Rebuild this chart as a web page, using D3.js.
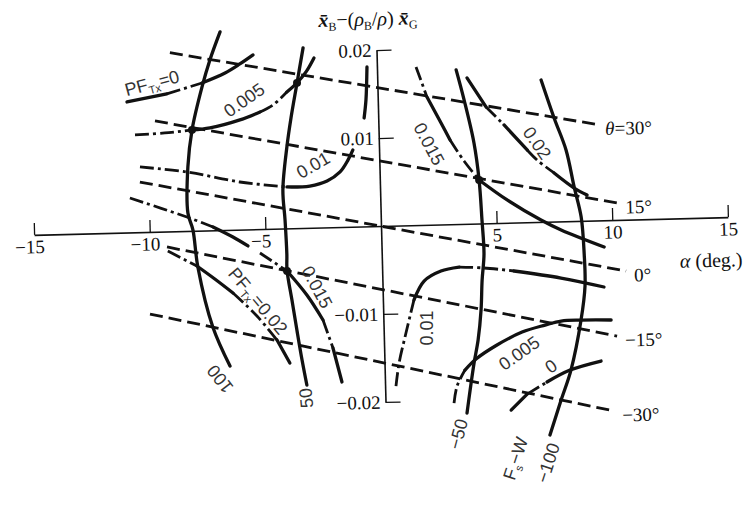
<!DOCTYPE html>
<html>
<head>
<meta charset="utf-8">
<script src="https://cdn.jsdelivr.net/npm/d3@7"></script>
<style>
  html, body { margin: 0; padding: 0; background: #fff; }
  svg { display: block; }
</style>
</head>
<body>
<svg id="chart" width="748" height="507"></svg>
<script>
// ---- axes -------------------------------------------------------------
const alphaTicks = [-15, -10, -5, 5, 10, 15];
const alphaTickLabels = ["\u221215", "\u221210", "\u22125", "5", "10", "15"];
const yTicks = [0.02, 0.01, -0.01, -0.02];
const yTickLabels = ["0.02", "0.01", "\u22120.01", "\u22120.02"];

// ---- pitch-angle lines theta = const (alpha, value) -------------------
const thetaLabels = ["30\u00b0", "15\u00b0", "0\u00b0", "\u221215\u00b0", "\u221230\u00b0"];
const thetaStart = [[-8.93, 0.0203], [-9.65, 0.01259], [-10.37, 0.0057], [-9.27, -0.00176], [-10.08, -0.00933]];
const thetaEnd   = [[9.45, 0.0109], [10.23, 0.00192], [10.54, -0.00583], [10.08, -0.01319], [9.87, -0.0217]];

// ---- F_s - W contours (solid) ----------------------------------------
const fw100 = [[-6.74, 0.02252], [-7.21, 0.01936], [-7.58, 0.01632], [-8.06, 0.01146], [-8.28, 0.00727],
               [-8.33, 0.00204], [-8.13, 0.00009], [-7.96, -0.00413], [-7.38, -0.01099], [-6.68, -0.01547]];
const fw50 = [[-3.17, 0.02046], [-3.47, 0.0165], [-3.77, 0.01254], [-3.98, 0.00925], [-4.2, 0.00438],
              [-4.14, 0.00096], [-4.1, -0.00291], [-4.11, -0.00473], [-3.93, -0.00815], [-3.75, -0.01157],
              [-3.56, -0.015], [-3.38, -0.01785]];
const fwM50 = [[3.42, 0.01751], [3.73, 0.01408], [4.11, 0.00916], [4.29, 0.00494], [4.37, 0.00039],
               [4.42, -0.00348], [4.31, -0.00643], [4.23, -0.00984], [4.07, -0.01324], [3.87, -0.01584],
               [3.67, -0.0189], [3.51, -0.0215]];
const fwM100 = [[7.08, 0.01612], [7.6, 0.01177], [8.08, 0.0081], [8.39, 0.00387], [8.66, 0.00044],
                [8.75, -0.00378], [8.75, -0.00741], [8.54, -0.01127], [8.05, -0.01692], [7.59, -0.0203],
                [7.07, -0.02424]];

// ---- PF_tx contours; runs: [from, to, kind] with kind "s" solid, "d" dash-dot
const pf0 = [[-10.84, 0.01483], [-9.11, 0.01563], [-7.58, 0.01677], [-6.57, 0.01784], [-5.92, 0.01882], [-5.34, 0.01981]];
const pf0Runs = [[0, 1, "s"], [1, 2, "d"], [2, 5, "s"]];
const pf005 = [[-10.53, 0.01106], [-9.24, 0.0112], [-8.06, 0.01146], [-7.28, 0.01164], [-5.98, 0.01246], [-5.1, 0.01331],
               [-4.53, 0.01407], [-3.92, 0.0155], [-3.47, 0.0165], [-3.07, 0.01772], [-2.71, 0.01929]];
const pf005Runs = [[0, 2, "d"], [2, 5, "s"], [5, 7, "d"], [7, 10, "s"]];
const pf01 = [[-10.35, 0.00741], [-8.33, 0.0067], [-6.05, 0.00541], [-4.02, 0.00471], [-3.03, 0.00475], [-2.28, 0.00527],
              [-1.71, 0.00626], [-1.35, 0.0076], [-1.13, 0.00872], [-0.61, 0.01232], [-0.51, 0.01436], [-0.43, 0.01811]];
const pf01Runs = [[0, 3, "d"], [3, 8, "s"], [9, 11, "s"]];
const pf015 = [[-10.82, 0.00391], [-8.38, 0.00159], [-7.26, 0.00038], [-6.41, -0.00082], [-5.77, -0.00188], [-5.26, -0.00271],
               [-4.11, -0.00484], [-3.28, -0.00763], [-2.61, -0.01051], [-2.21, -0.01372], [-1.86, -0.01761]];
const pf015Runs = [[0, 2, "d"], [2, 4, "s"], [5, 6, "d"], [6, 8, "s"], [8, 9, "d"], [9, 10, "s"]];
const pf02 = [[-9.24, -0.00222], [-8.0, -0.00401], [-7.24, -0.00554], [-6.47, -0.00718], [-5.46, -0.00986], [-4.62, -0.01265], [-4.09, -0.0153]];
const pf02Runs = [[0, 1, "d"], [1, 3, "s"], [3, 5, "d"], [5, 6, "s"]];
const pf015R = [[1.69, 0.01797], [2.13, 0.01452], [2.71, 0.01153], [3.08, 0.00957], [3.66, 0.00714], [4.29, 0.00494],
                [5.48, 0.00259], [6.92, 0.00021], [7.78, -0.00098], [9.62, -0.00304]];
const pf015RRuns = [[0, 1, "d"], [1, 3, "s"], [3, 5, "d"], [5, 9, "s"]];
const pf02R = [[3.88, 0.01657], [4.67, 0.01322], [5.43, 0.01112], [6.4, 0.00821], [6.82, 0.00704], [7.54, 0.00552], [8.39, 0.00375], [8.94, 0.00292]];
const pf02RRuns = [[0, 1, "s"], [1, 2, "d"], [2, 3, "s"], [3, 5, "d"], [5, 7, "s"]];
const pf01R = [[0.47, -0.01823], [0.63, -0.01562], [0.96, -0.01223], [1.34, -0.00851], [1.8, -0.00638], [2.54, -0.00529],
               [3.33, -0.00489], [4.41, -0.00507], [5.7, -0.0055], [7.72, -0.00644], [9.57, -0.00758]];
const pf01RRuns = [[0, 3, "d"], [3, 6, "s"], [6, 8, "d"], [8, 10, "s"]];
const pf005R = [[2.96, -0.02033], [3.11, -0.0184], [3.47, -0.01661], [3.96, -0.01539], [4.88, -0.01386], [5.98, -0.01246],
                [6.98, -0.01173], [7.68, -0.01132], [8.54, -0.01127], [9.84, -0.01135]];
const pf005RRuns = [[0, 2, "d"], [2, 9, "s"]];
const pf0R = [[5.42, -0.02129], [6.13, -0.01952], [7.0, -0.01821], [8.01, -0.01692], [9.36, -0.01598]];
const pf0RRuns = [[0, 1, "s"], [1, 2, "d"], [2, 4, "s"]];

// trim points where three families meet
const trimPoints = [[-8.06, 0.01146], [-3.47, 0.0165], [-4.11, -0.00484], [4.29, 0.00494]];

// curve labels: text, anchor (alpha, value), angle in degrees
const curveLabelText = ["0.005", "0.01", "0.015", "0.015", "0.02", "0.01", "0.005", "0", "100", "50", "\u221250", "\u2212100"];
const curveLabelAt = [[-5.78, 0.01472], [-2.87, 0.00713], [-2.83, -0.00675], [2.17, 0.00918], [6.84, 0.00898],
                      [1.88, -0.01173], [5.83, -0.01484], [7.19, -0.01641], [-7.13, -0.01692], [-3.43, -0.01933],
                      [3.1, -0.02386], [6.95, -0.0274]];
const curveLabelAngle = [-35, -30, 62, 62, 55, -90, -35, -35, -128, -95, -75, -72];
const pfNameLabels = [{ value: "0", at: [-9.74, 0.01692], angle: -15 }, { value: "0.02", at: [-5.4, -0.00816], angle: 50 }];

// ---- drawing ------------------------------------------------------------
const svg = d3.select("#chart");
const x = d3.scaleLinear().domain([-15, 15]).range([34, 728]);
const y = d3.scaleLinear().domain([-0.02, 0.02]).range([402, 50]);
const tilt = -1.47;
const g = svg.append("g").attr("transform", `rotate(${tilt},${x(0)},${y(0)})`);
const ink = "#111";
const serif = "'Liberation Serif', 'Times New Roman', serif";
const sans = "'Liberation Sans', Arial, sans-serif";

const smooth = d3.line().x(d => x(d[0])).y(d => y(d[1])).curve(d3.curveCatmullRom.alpha(0.5));
const straight = d3.line().x(d => x(d[0])).y(d => y(d[1]));

// x axis: ticks point up, labels below
const xAxis = d3.axisBottom(x).tickValues(alphaTicks).tickFormat((d, i) => alphaTickLabels[i])
  .tickSizeInner(-12).tickSizeOuter(0).tickPadding(5);
const gx = g.append("g").attr("transform", `translate(0,${y(0)})`).call(xAxis).attr("font-family", serif);
gx.select(".domain").attr("stroke", ink).attr("stroke-width", 1.6);
gx.selectAll(".tick line").attr("stroke", ink).attr("stroke-width", 1.3);
gx.selectAll(".tick text").attr("font-family", serif).attr("font-size", 19).attr("fill", ink)
  .attr("dx", d => d < 0 ? -5 : 0);

// y axis: ticks to the right, labels to the left
const yAxis = d3.axisLeft(y).tickValues(yTicks).tickFormat((d, i) => yTickLabels[i])
  .tickSizeInner(-15).tickSizeOuter(0).tickPadding(5);
const gy = g.append("g").attr("transform", `translate(${x(0)},0)`).call(yAxis).attr("font-family", serif);
gy.select(".domain").attr("stroke", ink).attr("stroke-width", 1.6);
gy.selectAll(".tick line").attr("stroke", ink).attr("stroke-width", 1.3);
gy.selectAll(".tick text").attr("font-family", serif).attr("font-size", 19).attr("fill", ink);

// axis titles
const yt = g.append("text").attr("x", x(-0.34)).attr("y", y(0.0228)).attr("text-anchor", "middle")
  .attr("font-family", serif).attr("font-size", 20).attr("fill", ink);
yt.append("tspan").attr("font-style", "italic").attr("font-weight", "bold").text("x\u0304");
yt.append("tspan").attr("font-size", 12).attr("dy", 4).text("B");
yt.append("tspan").attr("dy", -4).text("\u2212(");
yt.append("tspan").attr("font-style", "italic").text("\u03c1");
yt.append("tspan").attr("font-size", 12).attr("dy", 4).text("B");
yt.append("tspan").attr("dy", -4).text("/");
yt.append("tspan").attr("font-style", "italic").text("\u03c1");
yt.append("tspan").text(") ");
yt.append("tspan").attr("font-style", "italic").attr("font-weight", "bold").text("x\u0304");
yt.append("tspan").attr("font-size", 12).attr("dy", 4).text("G");

const xt = g.append("text").attr("x", x(14.23)).attr("y", y(-0.00483)).attr("dy", "0.35em")
  .attr("text-anchor", "middle").attr("font-family", serif).attr("font-size", 20).attr("fill", ink);
xt.append("tspan").attr("font-style", "italic").text("\u03b1");
xt.append("tspan").text(" (deg.)");

// theta lines
const thetaGroup = g.append("g");
thetaStart.forEach((s, i) => {
  const e = thetaEnd[i];
  thetaGroup.append("path").attr("d", straight([s, e])).attr("fill", "none").attr("stroke", ink)
    .attr("stroke-width", 2.8).attr("stroke-dasharray", "13,6");
  const t = thetaGroup.append("text").attr("x", x(e[0]) + 8).attr("y", y(e[1]) + 4).attr("dy", "0.35em")
    .attr("font-family", serif).attr("font-size", 19).attr("fill", ink);
  if (i === 0) {
    t.append("tspan").attr("font-style", "italic").text("\u03b8");
    t.append("tspan").text("=" + thetaLabels[i]);
  } else {
    t.text(thetaLabels[i]);
  }
});

// F_s - W family
[fw100, fw50, fwM50, fwM100].forEach(c => {
  g.append("path").attr("d", smooth(c)).attr("fill", "none").attr("stroke", ink)
    .attr("stroke-width", 3.3).attr("stroke-linecap", "round");
});

// PF_tx family
const pfCurves = [[pf0, pf0Runs], [pf005, pf005Runs], [pf01, pf01Runs], [pf015, pf015Runs], [pf02, pf02Runs],
                  [pf015R, pf015RRuns], [pf02R, pf02RRuns], [pf01R, pf01RRuns], [pf005R, pf005RRuns], [pf0R, pf0RRuns]];
pfCurves.forEach(([pts, runs]) => {
  runs.forEach(([a, b, kind]) => {
    const p = g.append("path").attr("d", smooth(pts.slice(a, b + 1))).attr("fill", "none").attr("stroke", ink);
    if (kind === "d") p.attr("stroke-width", 2.8).attr("stroke-dasharray", "14,4,3,4");
    else p.attr("stroke-width", 3.3).attr("stroke-linecap", "round");
  });
});

g.selectAll("circle.trim").data(trimPoints).join("circle").attr("class", "trim")
  .attr("cx", d => x(d[0])).attr("cy", d => y(d[1])).attr("r", 4).attr("fill", ink);

// curve labels (thin lettering)
function lettering(sel, size) {
  return sel.attr("font-family", sans).attr("font-size", size).attr("fill", "#333")
    .attr("text-anchor", "middle").attr("dy", "0.35em");
}
curveLabelText.forEach((txt, i) => {
  const [a, v] = curveLabelAt[i];
  lettering(g.append("text"), 18)
    .attr("transform", `translate(${x(a)},${y(v)}) rotate(${curveLabelAngle[i] - tilt})`).text(txt);
});
pfNameLabels.forEach(d => {
  const t = lettering(g.append("text"), 18)
    .attr("transform", `translate(${x(d.at[0])},${y(d.at[1])}) rotate(${d.angle - tilt})`);
  t.append("tspan").text("PF");
  t.append("tspan").attr("font-size", 11).attr("dy", 4).text("Tx");
  t.append("tspan").attr("dy", -4).text("=" + d.value);
});
// family name
const fn = lettering(g.append("text"), 18)
  .attr("transform", `translate(${x(5.55)},${y(-0.0268)}) rotate(${-72 - tilt})`);
fn.append("tspan").text("F");
fn.append("tspan").attr("font-size", 11).attr("dy", 4).text("s");
fn.append("tspan").attr("dy", -4).text("\u2212W");
</script>
</body>
</html>
